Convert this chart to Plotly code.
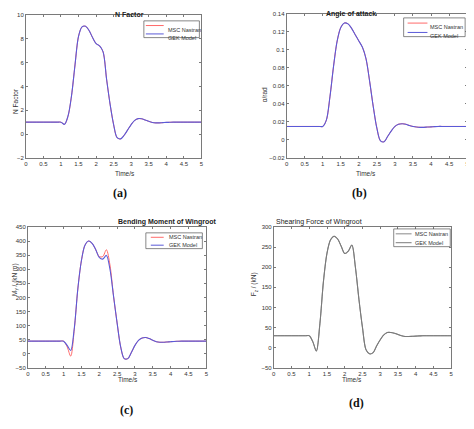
import plotly.graph_objects as go

# time axis (s), shared by all four panels
time = [0.0, 0.1, 0.2, 0.3, 0.4, 0.5, 0.6, 0.7, 0.8, 0.9, 1.0,
        1.1, 1.2, 1.3, 1.4, 1.5, 1.6, 1.7, 1.8, 1.9, 2.0,
        2.1, 2.2, 2.3, 2.4, 2.5, 2.6, 2.7, 2.8, 2.9, 3.0,
        3.1, 3.2, 3.3, 3.4, 3.5, 3.6, 3.7, 3.8, 3.9, 4.0,
        4.1, 4.2, 4.3, 4.4, 4.5, 4.6, 4.7, 4.8, 4.9, 5.0]

# (a) N factor
n_nastran = [1.0] * 11 + [0.82, 1.5, 3.2, 5.8, 8.2, 9.0, 9.05, 8.7, 8.1, 7.6,
                          7.4, 6.9, 4.6, 2.5, 0.8, -0.3, -0.4, -0.1, 0.35, 0.8,
                          1.15, 1.3, 1.28, 1.18, 1.07, 0.98, 0.94, 0.94, 0.96, 0.98,
                          0.99, 1.0, 1.0, 1.0, 1.0, 1.0, 1.0, 1.0, 1.0, 1.0]
n_gek = [1.0] * 11 + [0.82, 1.5, 3.2, 5.8, 8.2, 9.0, 9.05, 8.7, 8.1, 7.6,
                      7.4, 6.9, 4.6, 2.5, 0.8, -0.3, -0.4, -0.1, 0.35, 0.8,
                      1.15, 1.3, 1.28, 1.18, 1.07, 0.98, 0.94, 0.94, 0.96, 0.98,
                      0.99, 1.0, 1.0, 1.0, 1.0, 1.0, 1.0, 1.0, 1.0, 1.0]

# (b) angle of attack (rad)
aoa_nastran = [0.015] * 11 + [0.022, 0.048, 0.082, 0.110, 0.125, 0.130, 0.129, 0.124, 0.117, 0.110,
                              0.103, 0.090, 0.065, 0.037, 0.013, -0.001, -0.002, 0.004, 0.010, 0.015,
                              0.0175, 0.018, 0.0175, 0.016, 0.015, 0.0143, 0.014, 0.014, 0.0143, 0.0145,
                              0.0148, 0.015, 0.015, 0.015, 0.015, 0.015, 0.015, 0.015, 0.015, 0.015]
aoa_gek = list(aoa_nastran)

# (c) bending moment of wingroot (kN m)
my_nastran = [45] * 11 + [25, -8, 85, 230, 330, 385, 400, 392, 370, 345,
                          345, 369, 315, 205, 110, 25, -17, -17, 5, 30,
                          48, 56, 58, 54, 48, 43, 41, 41, 42, 43,
                          44, 44.5, 45, 45, 45, 45, 45, 45, 45, 45]
my_gek = [45] * 11 + [30, 12, 90, 230, 330, 385, 400, 392, 370, 342,
                      336, 349, 300, 205, 110, 25, -17, -17, 5, 30,
                      48, 56, 58, 54, 48, 43, 41, 41, 42, 43,
                      44, 44.5, 45, 45, 45, 45, 45, 45, 45, 45]

# (d) shearing force of wingroot (kN)
fz_nastran = [30] * 11 + [15, -8, 60, 165, 235, 268, 277, 270, 252, 234,
                          240, 255, 200, 120, 50, -5, -15, -12, 5, 20,
                          32, 38, 38, 36, 33, 30, 28, 28, 28.5, 29,
                          29.5, 30, 30, 30, 30, 30, 30, 30, 30, 30]
fz_gek = list(fz_nastran)

FONT = "Liberation Sans, Arial, sans-serif"
W, H = 474, 429
OFF = 8  # page body margin of the browser

# pixel boxes of the four plot areas: (left, right, top, bottom)
boxes = {
    "a": (24, 201, 12, 157),
    "b": (287, 469, 11, 157),
    "c": (26, 206, 227, 370),
    "d": (274, 453, 227, 370),
}
# legend boxes: (left, right, top, bottom, line start, line end, text start) relative to left
legend_boxes = {
    "a": (143, 199, 18, 35, 2, 20, 23),
    "b": (405, 467, 15, 34, 4, 24, 26),
    "c": (145, 202, 233, 249, 5, 18, 22),
    "d": (395, 452, 229, 247, 2, 18, 20),
}


def px(x):
    return (x - OFF) / W


def py(y):
    return 1 - (y - OFF) / H


fig = go.Figure()
shapes = []


def add_panel(i, key, y1, y2, c1, c2, yrange, dtick):
    xa = "x" if i == 1 else f"x{i}"
    ya = "y" if i == 1 else f"y{i}"
    fig.add_trace(go.Scatter(x=time, y=y1, name="MSC Nastran", mode="lines",
                             line=dict(color=c1, width=1, shape="spline", smoothing=0.9),
                             xaxis=xa, yaxis=ya, showlegend=False))
    fig.add_trace(go.Scatter(x=time, y=y2, name="GEK Model", mode="lines",
                             line=dict(color=c2, width=1.1, shape="spline", smoothing=0.9),
                             xaxis=xa, yaxis=ya, showlegend=False))
    l, r, t, b = boxes[key]
    axis_style = dict(showline=True, linecolor="#7a7a7a", linewidth=0.8, mirror="ticks",
                      ticks="inside", ticklen=2, tickcolor="#7a7a7a", showgrid=False,
                      zeroline=False, tickfont=dict(size=6, color="#333333", family=FONT))
    xname = "xaxis" if i == 1 else f"xaxis{i}"
    yname = "yaxis" if i == 1 else f"yaxis{i}"
    fig.update_layout({
        xname: dict(domain=[px(l), px(r)], anchor=ya, range=[0, 5], dtick=0.5, **axis_style),
        yname: dict(domain=[py(b), py(t)], anchor=xa, range=yrange, dtick=dtick, **axis_style),
    })

    # small legend box drawn by hand (matlab style)
    gl, gr, gt, gb, ls, le, ts = legend_boxes[key]
    shapes.append(dict(type="rect", xref="paper", yref="paper",
                       x0=px(gl), x1=px(gr), y0=py(gb), y1=py(gt),
                       line=dict(color="#555555", width=0.7), fillcolor="white"))
    row_h = (gb - gt) / 2
    for k, (label, col) in enumerate([("MSC Nastran", c1), ("GEK Model", c2)]):
        yy = gt + row_h * (k + 0.5) + 0.5
        shapes.append(dict(type="line", xref="paper", yref="paper",
                           x0=px(gl + ls), x1=px(gl + le), y0=py(yy), y1=py(yy),
                           line=dict(color=col, width=1)))
        fig.add_annotation(text=label, xref="paper", yref="paper", xanchor="left",
                           x=px(gl + ts), y=py(yy), showarrow=False, borderpad=0,
                           font=dict(size=5.5, color="#333333", family=FONT))


add_panel(1, "a", n_nastran, n_gek, "#ff6a6a", "#5a5ad8", [-2, 10], 2)
add_panel(2, "b", aoa_nastran, aoa_gek, "#ff6a6a", "#5a5ad8", [-0.02, 0.14], 0.02)
add_panel(3, "c", my_nastran, my_gek, "#ff6a6a", "#5a5ad8", [-50, 450], 50)
add_panel(4, "d", fz_nastran, fz_gek, "#8a8a8a", "#7a7a7a", [-50, 300], 50)

# titles, axis titles and panel labels as annotations
titles = [("N Factor", "a", True), ("Angle of attack", "b", True),
          ("Bending Moment of Wingroot", "c", True), ("Shearing Force of Wingroot", "d", False)]
ylabels = {"a": ("N Factor", 9), "b": ("α/rad", 265),
           "c": ("M<sub>y</sub> / (kN m)", 8), "d": ("F<sub>z</sub> / (kN)", 255)}
sub_labels = {"a": (110, 193), "b": (370, 193), "c": (117, 422), "d": (367, 415)}

for text, key, bold in titles:
    l, r, t, b = boxes[key]
    fig.add_annotation(text=f"<b>{text}</b>" if bold else text, xref="paper", yref="paper",
                       x=px((l + r) / 2), y=py(t - 5), showarrow=False, borderpad=0,
                       font=dict(size=7, color="#222222", family=FONT))
    fig.add_annotation(text="Time/s", xref="paper", yref="paper",
                       x=px((l + r) / 2), y=py(b + 16), showarrow=False, borderpad=0,
                       font=dict(size=6.5, color="#333333", family=FONT))
    ytext, yx = ylabels[key]
    fig.add_annotation(text=ytext, xref="paper", yref="paper", textangle=-90,
                       x=px(yx), y=py((t + b) / 2), showarrow=False, borderpad=0,
                       font=dict(size=6.5, color="#333333", family=FONT))
    sx, sy = sub_labels[key]
    fig.add_annotation(text=f"<b>({key})</b>", xref="paper", yref="paper",
                       x=px(sx), y=py(sy), showarrow=False,
                       font=dict(size=12, color="#111111", family="Liberation Serif, DejaVu Serif, serif"))

fig.update_layout(width=W, height=H, margin=dict(l=0, r=0, t=0, b=0),
                  paper_bgcolor="white", plot_bgcolor="white", showlegend=False,
                  shapes=shapes)

fig.write_html("out.html")
